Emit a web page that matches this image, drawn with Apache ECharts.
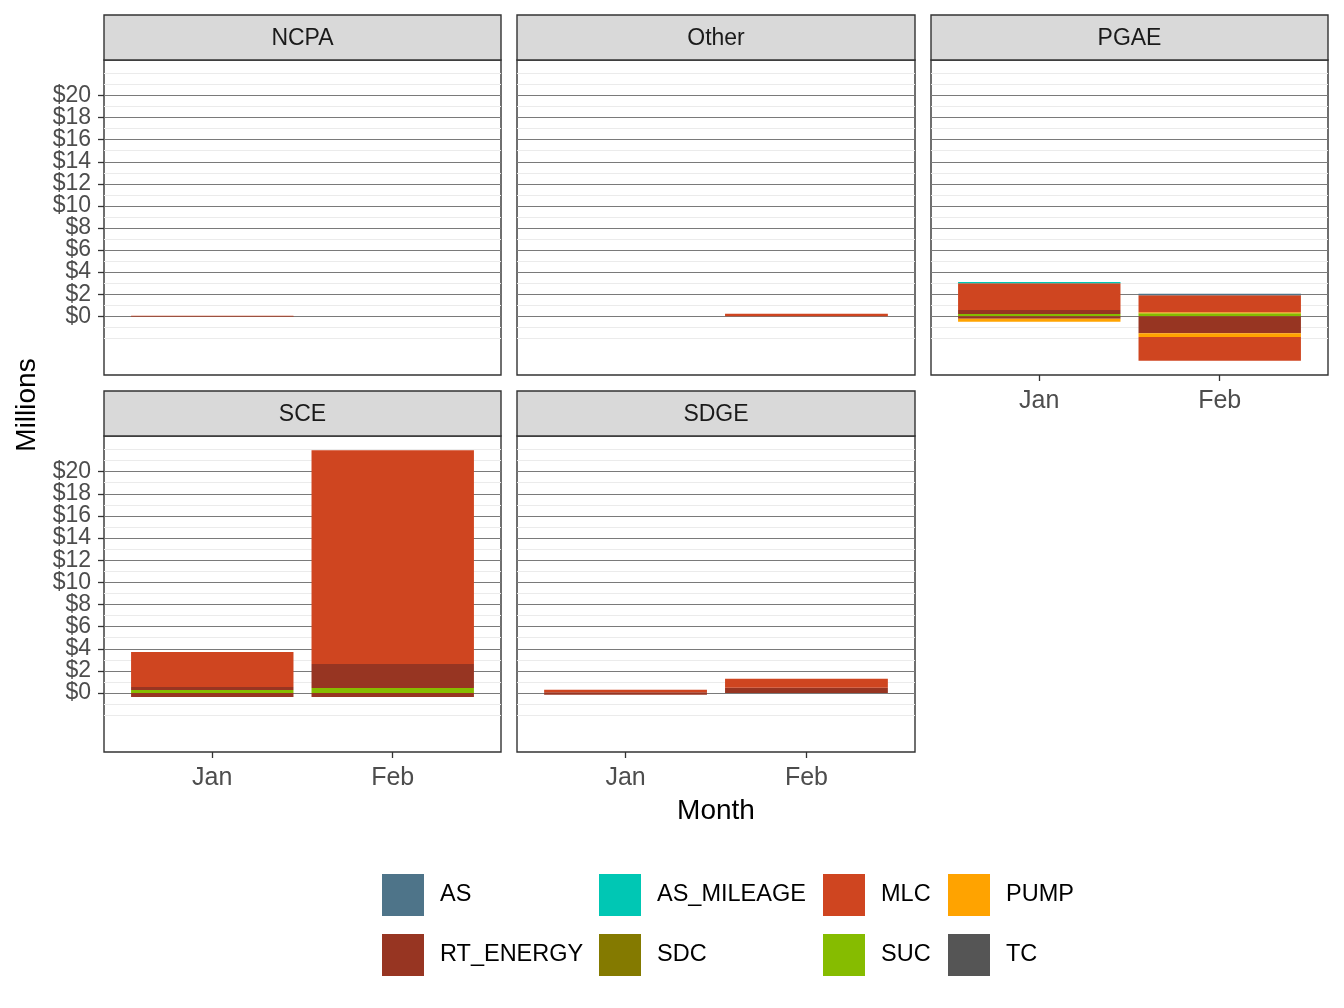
<!DOCTYPE html>
<html>
<head>
<meta charset="utf-8">
<title>Charges by region</title>
<script src="https://cdn.jsdelivr.net/npm/echarts@6/dist/echarts.min.js"></script>
<style>
  html, body { margin: 0; padding: 0; background: #fff; }
  #chart { width: 1344px; height: 1008px; }
</style>
</head>
<body>
<div id="chart"></div>
<script>
const regions = ['NCPA', 'Other', 'PGAE', 'SCE', 'SDGE'];
const months = ['Jan', 'Feb'];
const chargeTypes = ['AS', 'AS_MILEAGE', 'MLC', 'PUMP', 'RT_ENERGY', 'SDC', 'SUC', 'TC'];
const chargeColors = ['#4e7489', '#00c7b4', '#cf4520', '#ffa300', '#973522', '#847a00', '#86bc00', '#555555'];

// $ millions, one [Jan, Feb] pair per region (same order as regions)
// gains and losses are stacked separately, like ggplot does
const asUp         = [[0, 0], [0, 0], [0, 0.15], [0, 0], [0, 0]];
const asMileageUp  = [[0, 0], [0, 0], [0.1, 0], [0, 0], [0, 0]];
const mlcUp        = [[0.04, 0], [0, 0.22], [2.44, 1.54], [3.17, 19.31], [0.22, 0.81]];
const mlcDown      = [[0, 0], [0, 0], [0, -2.17], [0, 0], [0, 0]];
const pumpUp       = [[0, 0], [0, 0], [0, 0.09], [0, 0], [0, 0]];
const pumpDown     = [[0, 0], [0, 0], [-0.27, -0.33], [0, 0], [0, 0]];
const rtEnergyUp   = [[0, 0], [0, 0], [0.36, 0], [0.27, 2.17], [0.08, 0.49]];
const rtEnergyDown = [[-0.04, 0], [0, 0], [-0.22, -1.54], [-0.36, -0.36], [-0.15, 0]];
const sdcUp        = [[0, 0], [0, 0], [0, 0], [0, 0], [0, 0]];
const sucUp        = [[0, 0], [0, 0], [0.2, 0.27], [0.27, 0.45], [0, 0]];
const tcUp         = [[0, 0], [0, 0], [0, 0], [0, 0], [0, 0]];

const yTicks = [0, 2, 4, 6, 8, 10, 12, 14, 16, 18, 20];
const yMinor = [-2, -1, 1, 3, 5, 7, 9, 11, 13, 15, 17, 19, 21, 22];
const yMin = -5.32, yMax = 23.22;

const parts = {
  AS: [asUp], AS_MILEAGE: [asMileageUp], MLC: [mlcUp, mlcDown], PUMP: [pumpUp, pumpDown],
  RT_ENERGY: [rtEnergyUp, rtEnergyDown], SDC: [sdcUp], SUC: [sucUp], TC: [tcUp]
};

// facet layout
const colLeft = [104, 517, 931];
const colWidth = [397, 398, 397];
const rowTop = [60, 436];
const rowHeight = [315, 316];
const stripH = 45;
const font = '"Liberation Sans", Arial, sans-serif';

const chart = echarts.init(document.getElementById('chart'));

const grids = [], xAxes = [], yAxes = [], series = [], graphics = [];
const n = regions.length;

// labels are tightly packed, so they go on two axes to stop echarts dropping any
function labelAxis(gridIndex, values, show) {
  return {
    type: 'value', gridIndex: gridIndex, min: yMin, max: yMax, position: 'left', offset: 0,
    axisLine: { show: false }, splitLine: { show: false },
    axisTick: { show: show, customValues: values, length: 6, lineStyle: { color: '#333', width: 1.3 } },
    axisLabel: { show: show, customValues: values, formatter: v => '$' + v,
      color: '#4d4d4d', fontSize: 23, fontFamily: font, margin: 13 }
  };
}

regions.forEach((region, i) => {
  const col = i % 3, row = Math.floor(i / 3);
  const left = colLeft[col], top = rowTop[row], w = colWidth[col], h = rowHeight[row];
  const showX = i >= 2;       // bottom of each column
  const showY = col === 0;

  // panel: border, grid lines, y labels
  grids[i] = { left: left, top: top, width: w, height: h, show: true,
    borderColor: '#333', borderWidth: 1.4, backgroundColor: '#fff' };
  xAxes[i] = { type: 'value', gridIndex: i, min: 0, max: 1, show: false };
  yAxes[i] = labelAxis(i, yTicks.filter((v, k) => k % 2 === 0), showY);
  yAxes[2 * n + i] = labelAxis(i, yTicks.filter((v, k) => k % 2 === 1), showY);
  series.push({
    type: 'line', xAxisIndex: i, yAxisIndex: i, data: [], silent: true,
    markLine: {
      silent: true, symbol: 'none', z: 1, animation: false, label: { show: false },
      data: yMinor.map(v => ({ yAxis: v, lineStyle: { color: '#ebebeb', width: 1.2, type: 'solid' } }))
        .concat(yTicks.map(v => ({ yAxis: v, lineStyle: { color: '#7a7a7a', width: 1, type: 'solid' } })))
    }
  });

  // bars: discrete scale spans 0.4..2.6, so the two bands take 2/2.2 of the panel
  const d = n + i;
  grids[d] = { left: left + w * 0.1 / 2.2, top: top, width: w * 2 / 2.2, height: h };
  xAxes[d] = {
    type: 'category', gridIndex: d, data: months, boundaryGap: true,
    axisLine: { show: false, onZero: false }, splitLine: { show: false },
    axisTick: { show: showX, alignWithLabel: true, length: 6, lineStyle: { color: '#333', width: 1.3 } },
    axisLabel: { show: showX, color: '#4d4d4d', fontSize: 25, fontFamily: font, margin: 14 }
  };
  yAxes[d] = { type: 'value', gridIndex: d, min: yMin, max: yMax, show: false, splitLine: { show: false } };

  // TC closest to zero, AS furthest
  chargeTypes.slice().reverse().forEach(name => {
    const color = chargeColors[chargeTypes.indexOf(name)];
    parts[name].forEach(arr => {
      series.push({
        name: name, type: 'bar', xAxisIndex: d, yAxisIndex: d, stack: 'p' + i,
        barCategoryGap: '10%', z: 2, itemStyle: { color: color },
        data: arr[i].map(v => (v === 0 ? null : v))
      });
    });
  });

  // facet strip
  graphics.push({ type: 'rect', shape: { x: left, y: top - stripH, width: w, height: stripH },
    style: { fill: '#d9d9d9', stroke: '#333', lineWidth: 1.4 }, z: 10 });
  graphics.push({ type: 'text', x: left + w / 2, y: top - stripH / 2 + 1, z: 11,
    style: { text: region, font: '23px ' + font, fill: '#1a1a1a', textAlign: 'center', textVerticalAlign: 'middle' } });
});

graphics.push({ type: 'text', x: 27, y: 405, rotation: Math.PI / 2,
  style: { text: 'Millions', font: '28px ' + font, fill: '#000', textAlign: 'center', textVerticalAlign: 'middle' } });
graphics.push({ type: 'text', x: 716, y: 811,
  style: { text: 'Month', font: '28px ' + font, fill: '#000', textAlign: 'center', textVerticalAlign: 'middle' } });

// legend: 4 columns x 2 rows, filled by row
const legendLeft = [382, 599, 823, 948];
const legends = legendLeft.map((x, c) => ({
  orient: 'vertical', left: x, top: 874, padding: 0,
  data: [chargeTypes[c], chargeTypes[c + 4]],
  icon: 'rect', itemWidth: 42, itemHeight: 42, itemGap: 18, selectedMode: false,
  textStyle: { fontSize: 23.5, fontFamily: font, color: '#000', padding: [4, 0, 0, 11] }
}));

chart.setOption({
  backgroundColor: '#fff',
  animation: false,
  grid: grids,
  xAxis: xAxes,
  yAxis: yAxes,
  legend: legends,
  series: series,
  graphic: graphics
});
</script>
</body>
</html>
